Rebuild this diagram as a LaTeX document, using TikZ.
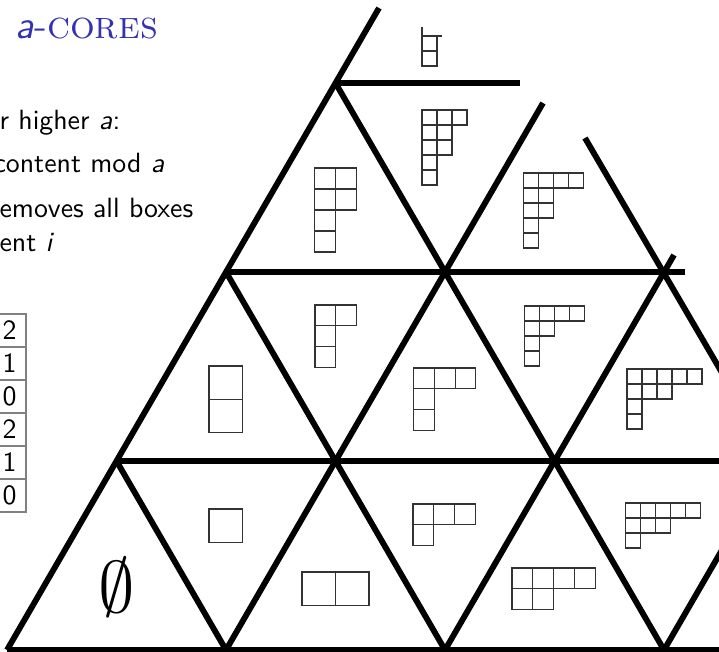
\documentclass[tikz,border=0pt]{standalone}
\usepackage{tikz}
\usepackage{xcolor}
\definecolor{coresblue}{rgb}{0.2,0.2,0.7}

\begin{document}
\begin{tikzpicture}[
  x=0.12mm, y=-0.12mm,
  lattice/.style={line width=2pt, black},
  cell/.style={draw=black!80, line width=0.35pt},
  note/.style={font=\sffamily\fontsize{9.5}{11}\selectfont, anchor=base west, inner sep=0pt},
  num/.style={draw=black!50, line width=0.4pt, minimum size=3.96mm, inner sep=0pt,
              font=\sffamily\fontsize{9.5}{11}\selectfont},
  heading/.style={font=\fontsize{13.3}{16}\selectfont, text=coresblue, anchor=base west, inner sep=0pt},
]
\useasboundingbox (0,0) rectangle (719,652);
\clip (0,0) rectangle (719,652);

% ---- Lattice geometry (1 unit = 1 px, y grows downward) ---------------------
\def\ox{7}    % left corner of the big triangle
\def\oy{650}  % bottom line
\def\sx{219}  % side of a small triangle
\def\sy{189}  % row height
\foreach \i in {0,...,4}{
  \foreach \j in {0,...,4}{
    \coordinate (v\i\j) at ({\ox+\i*\sx+\j*\sx/2},{\oy-\j*\sy});
  }
}

% where the lines stop near the top right
\coordinate (endA) at (379,8);
\coordinate (endB) at (543,103);
\coordinate (endC) at (674,255);
\coordinate (endD) at (585,138);
\coordinate (endE) at (685,272);
\coordinate (endF) at (520,83);

% Young diagram: x, y (top left), box size, row lengths
\def\young#1#2#3#4{
  \foreach \len [count=\rw from 0] in {#4}{
    \foreach \cl in {1,...,\len}{
      \draw[cell] ({#1+(\cl-1)*#3},{#2+\rw*#3}) rectangle +(#3,#3);
    }
  }
}

% ---- Title and text ---------------------------------------------------------
\node[heading] (title) at (15,39) {\textsf{\itshape a}-\textsc{cores}};
\node[note] (line1) at (-1,129) {r higher \textit{a}:};
\node[note] (line2) at (-7,173) {content mod \textit{a}};
\node[note] (line3) at (-1,218) {emoves all boxes};
\node[note] (line4) at (-1,251) {ent \textit{i}};

% ---- Content column ---------------------------------------------------------
\foreach \v [count=\k] in {2,1,0,2,1,0}{
  \node[num] (m\k) at (9.5,{297.5+33*\k}) {\v};
}

% ---- Lattice lines ----------------------------------------------------------
% horizontal
\draw[lattice] (v00) -- (v40);
\draw[lattice] (v01) -- (v41);
\draw[lattice] (v02) -- (endE);
\draw[lattice] (v03) -- (endF);
% rising
\draw[lattice] (v00) -- (endA);
\draw[lattice] (v10) -- (endB);
\draw[lattice] (v20) -- (endC);
\draw[lattice] (v30) -- (v31);
% falling
\draw[lattice] (v01) -- (v10);
\draw[lattice] (v02) -- (v20);
\draw[lattice] (v03) -- (v30);
\draw[lattice] (endD) -- (v31);

% ---- Partitions -------------------------------------------------------------
\node (empty) at (117,587) {\fontsize{26}{30}\selectfont$\emptyset$};
\young{209}{509}{33.5}{1}
\young{302}{572}{33.5}{2}
\young{413}{504}{20.8}{3,1}
\young{512}{568}{20.8}{4,2}
\young{625.5}{503}{15}{5,3,1}
\young{209}{366}{33.3}{1,1}
\young{315}{305}{20.8}{2,1,1}
\young{413.5}{368}{20.8}{3,1,1}
\young{524.5}{306}{15}{4,2,1,1}
\young{627}{369}{15}{5,3,1,1}
\young{314.5}{168}{21}{2,2,1,1}
\young{422}{110}{15}{3,2,2,1,1}
\young{523.5}{173}{15}{4,2,2,1,1}
% partly hidden one at the top
\draw[cell] (422,36) rectangle (437,66);
\draw[cell] (422,51) -- (437,51);
\draw[cell] (422,27) -- (422,36);
\draw[cell] (437,36) -- (441.5,36);

\end{tikzpicture}
\end{document}
